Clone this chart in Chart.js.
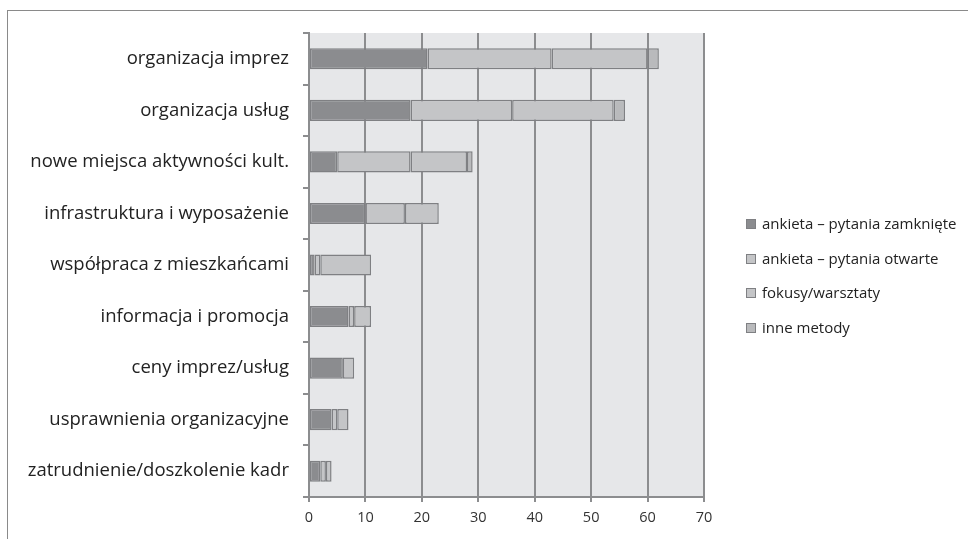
<!DOCTYPE html>
<html>
<head>
<meta charset="utf-8">
<script src="https://cdn.jsdelivr.net/npm/chart.js@4/dist/chart.umd.min.js"></script>
<style>
    body { margin: 0; background: #fff; }
    #wrap { position: relative; width: 968px; height: 539px; overflow: hidden; }
    #frame { position: absolute; left: 7px; top: 10px; width: 980px; height: 560px; border: 1.5px solid #8a8a8a; box-sizing: border-box; }
    canvas { position: absolute; left: 0; top: 0; }
    #legend { position: absolute; left: 746px; top: 213px; font-family: "Open Sans", sans-serif; font-size: 15px; color: #222; }
    #legend div { height: 34.7px; display: flex; align-items: flex-start; }
    #legend span.box { display: inline-block; width: 8px; height: 8px; border: 1.5px solid #7f8083; margin: 6px 6px 0 0; }
</style>
</head>
<body>
<div id="wrap">
    <div id="frame"></div>
    <canvas id="chart" width="968" height="539"></canvas>
    <div id="legend"></div>
</div>
<script>
const categories = [
    'organizacja imprez',
    'organizacja usług',
    'nowe miejsca aktywności kult.',
    'infrastruktura i wyposażenie',
    'współpraca z mieszkańcami',
    'informacja i promocja',
    'ceny imprez/usług',
    'usprawnienia organizacyjne',
    'zatrudnienie/doszkolenie kadr'
];
const seriesNames = ['ankieta – pytania zamknięte', 'ankieta – pytania otwarte', 'fokusy/warsztaty', 'inne metody'];
const closedSurvey = [21, 18, 5, 10, 1, 7, 6, 4, 2];
const openSurvey   = [22, 18, 13, 7, 1, 1, 2, 1, 1];
const focusGroups  = [17, 18, 10, 6, 9, 3, 0, 2, 1];
const otherMethods = [2, 2, 1, 0, 0, 0, 0, 0, 0];
const xTicks = [0, 10, 20, 30, 40, 50, 60, 70];

const fills = ['#8b8c8f', '#c4c5c7', '#c4c5c7', '#b9babc'];
const values = [closedSurvey, openSurvey, focusGroups, otherMethods];

// tło obszaru wykresu
const plotBg = {
    id: 'plotBg',
    beforeDraw(chart) {
        const a = chart.chartArea;
        const ctx = chart.ctx;
        ctx.save();
        ctx.fillStyle = '#e6e7e9';
        ctx.fillRect(a.left, a.top, a.right - a.left, a.bottom - a.top);
        ctx.restore();
    }
};

new Chart(document.getElementById('chart'), {
    type: 'bar',
    data: {
        labels: categories,
        datasets: seriesNames.map((name, i) => ({
            label: name,
            data: values[i],
            backgroundColor: fills[i],
            borderColor: '#7f8083',
            borderWidth: 1.5,
            borderSkipped: false,
            barPercentage: 0.41,
            categoryPercentage: 1
        }))
    },
    options: {
        indexAxis: 'y',
        responsive: false,
        animation: false,
        layout: { padding: { top: 33, right: 264, left: 0, bottom: 0 } },
        plugins: {
            legend: { display: false },
            tooltip: { enabled: false }
        },
        scales: {
            x: {
                stacked: true,
                min: 0,
                max: 70,
                afterBuildTicks(scale) { scale.ticks = xTicks.map(v => ({ value: v })); },
                afterFit(scale) { scale.height = 42; },
                grid: { color: '#8c8d8f', lineWidth: 2, tickLength: 5, drawTicks: true },
                border: { color: '#8c8d8f', width: 2 },
                ticks: { color: '#333', padding: 7, font: { family: 'Open Sans', size: 14.5 } }
            },
            y: {
                stacked: true,
                afterFit(scale) { scale.width = 309; },
                grid: { drawOnChartArea: false, color: '#8c8d8f', lineWidth: 2, tickLength: 6, offset: true },
                border: { color: '#8c8d8f', width: 2 },
                ticks: { color: '#222', padding: 14, font: { family: 'Open Sans', size: 18.5 } }
            }
        }
    },
    plugins: [plotBg]
});

const legend = document.getElementById('legend');
seriesNames.forEach((name, i) => {
    const row = document.createElement('div');
    row.innerHTML = `<span class="box" style="background:${fills[i]}"></span><span>${name}</span>`;
    legend.appendChild(row);
});
</script>
</body>
</html>
